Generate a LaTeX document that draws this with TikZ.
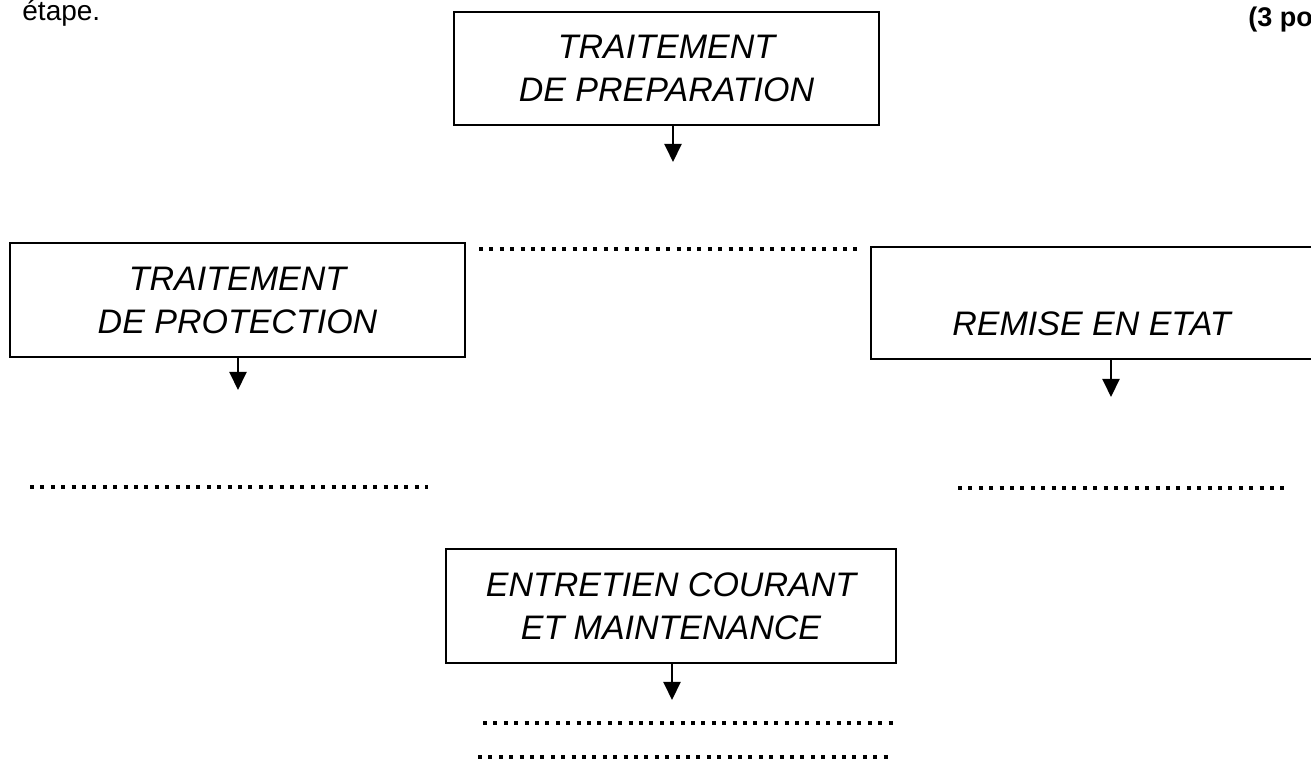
\documentclass[tikz,border=0pt]{standalone}
\usepackage{fontspec}
\setmainfont{Liberation Sans}
\newfontfamily\boxfont{Liberation Sans}
\usetikzlibrary{arrows.meta}

\begin{document}
\begin{tikzpicture}[x=0.5pt,y=-0.5pt]
\tikzstyle{every node}+=[inner sep=0pt]
\tikzstyle{box}=[draw=black, line width=1.2pt, align=center, font=\boxfont\itshape\fontsize{17}{21.5}\selectfont]
\tikzstyle{arr}=[black, line width=1pt, -{Triangle[length=9pt,width=8.5pt]}]
\tikzstyle{blank}=[black, line width=1.6pt, dash pattern=on 2pt off 3.2pt]
\useasboundingbox (0,0) rectangle (1311,763);
\draw (22,21) node [anchor=base west, font=\fontsize{14}{16}\selectfont] (etape) {étape.};
\draw (1248,27) node [anchor=base west, font=\bfseries\fontsize{13.5}{16}\selectfont] (points) {(3 po};
\node [box, minimum width=212.5pt, minimum height=56.5pt] (prep) at (666.5,68.5) {TRAITEMENT\\DE PREPARATION};
\node [box, minimum width=227.5pt, minimum height=57pt] (prot) at (237.5,300) {TRAITEMENT\\DE PROTECTION};
\node [box, minimum width=224.5pt, minimum height=56pt, label={[xshift=-2pt, yshift=-10.25pt, font=\boxfont\itshape\fontsize{17}{21.5}\selectfont]center:REMISE EN ETAT}] (remise) at (1095.5,303) {};
\node [box, minimum width=225pt, minimum height=57pt] (entretien) at (671,606) {ENTRETIEN COURANT\\ET MAINTENANCE};
\coordinate (prepEnd) at (673,162);
\coordinate (protEnd) at (238,390);
\coordinate (remiseEnd) at (1111,397);
\coordinate (entretienEnd) at (672,700);
\draw [arr] (prep.south -| prepEnd) -- (prepEnd);
\draw [arr] (prot.south -| protEnd) -- (protEnd);
\draw [arr] (remise.south -| remiseEnd) -- (remiseEnd);
\draw [arr] (entretien.south -| entretienEnd) -- (entretienEnd);
\coordinate (topA) at (479,249);
\coordinate (topB) at (863,249);
\coordinate (leftA) at (30,487);
\coordinate (leftB) at (428,487);
\coordinate (rightA) at (958,488);
\coordinate (rightB) at (1290,488);
\coordinate (lowA) at (483,723);
\coordinate (lowB) at (893,723);
\coordinate (lastA) at (478,757);
\coordinate (lastB) at (893,757);
\draw [blank] (topA) -- (topB);
\draw [blank] (leftA) -- (leftB);
\draw [blank] (rightA) -- (rightB);
\draw [blank] (lowA) -- (lowB);
\draw [blank] (lastA) -- (lastB);
\end{tikzpicture}
\end{document}
